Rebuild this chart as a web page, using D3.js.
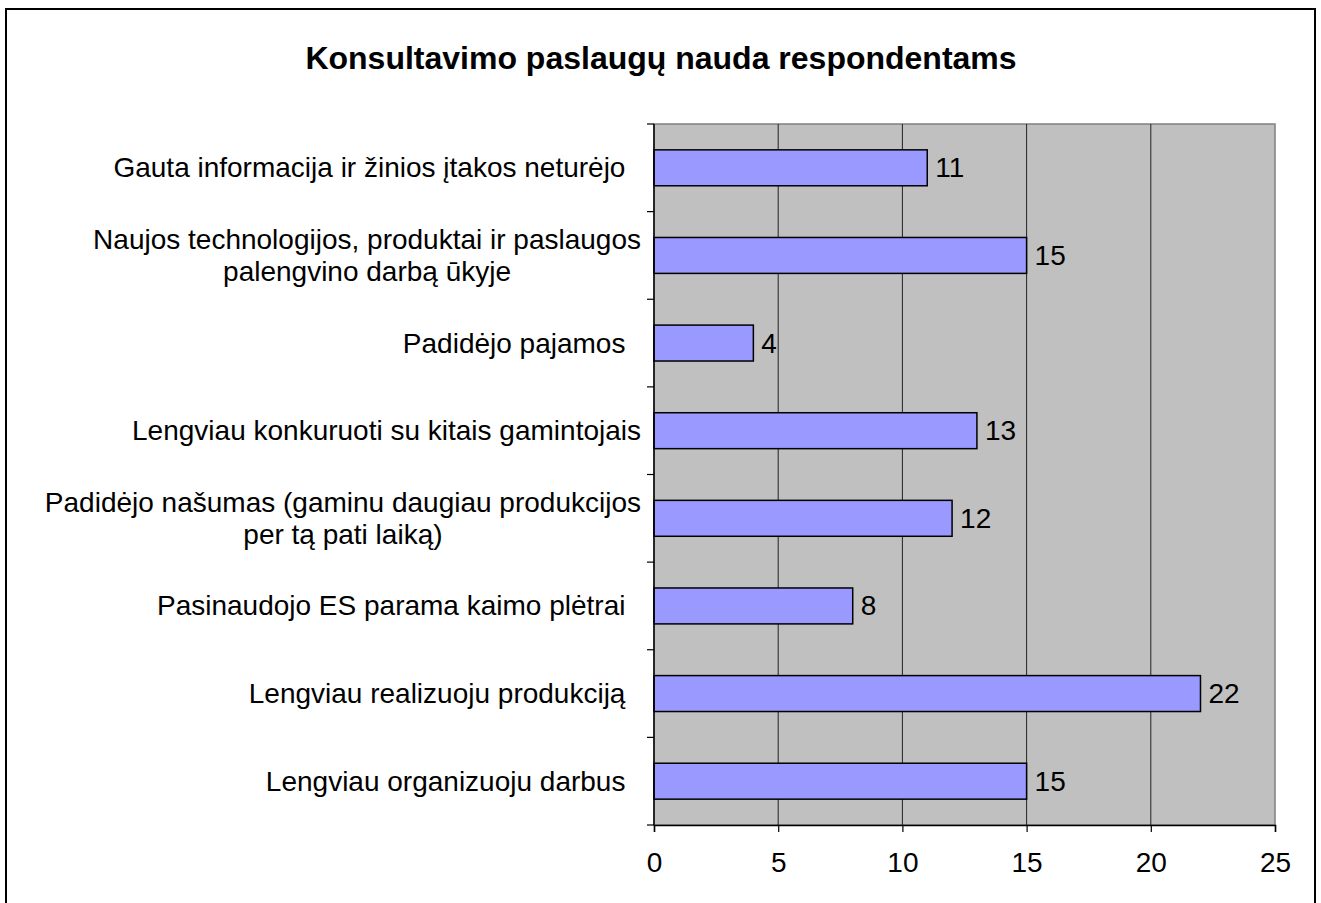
<!DOCTYPE html>
<html><head><meta charset="utf-8">
<script src="https://cdn.jsdelivr.net/npm/d3@7"></script>
<style>
body{margin:0;background:#fff;overflow:hidden}
svg text{font-family:"Liberation Sans",Arial,sans-serif;white-space:pre;fill:#000}
</style>
</head><body>
<svg id="c" width="1321" height="903"></svg>
<script>
const title = "Konsultavimo paslaugų nauda respondentams";
const categories = [
  "Gauta informacija ir žinios įtakos neturėjo  ",
  "Naujos technologijos, produktai ir paslaugos\npalengvino darbą ūkyje",
  "Padidėjo pajamos  ",
  "Lengviau konkuruoti su kitais gamintojais",
  "Padidėjo našumas (gaminu daugiau produkcijos\nper tą pati laiką)",
  "Pasinaudojo ES parama kaimo plėtrai  ",
  "Lengviau realizuoju produkciją  ",
  "Lengviau organizuoju darbus  "
];
const values = [11, 15, 4, 13, 12, 8, 22, 15];
const xTicks = [0, 5, 10, 15, 20, 25];

const svg = d3.select("#c");
const plot = {left: 654, right: 1275, top: 124, bottom: 825};
const fs = 28;

// outer frame
svg.append("rect").attr("x", 6).attr("y", 9).attr("width", 1309).attr("height", 910)
  .attr("fill", "#fff").attr("stroke", "#000").attr("stroke-width", 2);

svg.append("text").attr("x", 661).attr("y", 58)
  .attr("text-anchor", "middle").attr("dominant-baseline", "central")
  .attr("font-size", 32).attr("font-weight", "bold").text(title);

const x = d3.scaleLinear().domain([0, 25]).range([plot.left, plot.right]);
const y = d3.scaleBand().domain(categories).range([plot.top, plot.bottom]).padding(0);

// plot background
svg.append("rect").attr("x", plot.left).attr("y", plot.top)
  .attr("width", plot.right - plot.left).attr("height", plot.bottom - plot.top)
  .attr("fill", "#C0C0C0").attr("stroke", "#808080").attr("stroke-width", 1.5);

// gridlines
svg.append("g").selectAll("line").data(xTicks.filter(t => t > 0 && t < 25)).join("line")
  .attr("x1", d => x(d)).attr("x2", d => x(d))
  .attr("y1", plot.top).attr("y2", plot.bottom)
  .attr("stroke", "#222").attr("stroke-width", 1);

// bars
const barH = y.bandwidth() * 0.41;
svg.append("g").selectAll("rect").data(values).join("rect")
  .attr("x", x(0))
  .attr("y", (d, i) => y(categories[i]) + (y.bandwidth() - barH) / 2)
  .attr("width", d => x(d) - x(0))
  .attr("height", barH)
  .attr("fill", "#9999FF").attr("stroke", "#000").attr("stroke-width", 1.5);

// value labels
svg.append("g").selectAll("text").data(values).join("text")
  .attr("x", d => x(d) + 8)
  .attr("y", (d, i) => y(categories[i]) + y.bandwidth() / 2)
  .attr("dominant-baseline", "central")
  .attr("font-size", fs).text(d => d);

// x axis
const xAxis = d3.axisBottom(x).tickValues(xTicks).tickSize(7).tickPadding(20);
const gx = svg.append("g").attr("transform", `translate(0,${plot.bottom})`).call(xAxis);
gx.select(".domain").attr("stroke", "#000").attr("stroke-width", 1.5);
gx.selectAll(".tick line").attr("stroke", "#000").attr("stroke-width", 1.2);
gx.selectAll(".tick text").attr("font-size", fs).attr("font-family", null);

// y axis line and boundary ticks
svg.append("line").attr("x1", plot.left).attr("x2", plot.left)
  .attr("y1", plot.top).attr("y2", plot.bottom).attr("stroke", "#000").attr("stroke-width", 1.5);
const bounds = categories.map(c => y(c)).concat([plot.bottom]);
svg.append("g").selectAll("line").data(bounds).join("line")
  .attr("x1", plot.left - 7).attr("x2", plot.left)
  .attr("y1", d => d).attr("y2", d => d)
  .attr("stroke", "#000").attr("stroke-width", 1.2);

// category labels (block right-aligned, lines centered)
const labelRight = 641;
const lh = 32;
categories.forEach((c, i) => {
  const lines = c.split("\n");
  const cy = y(c) + y.bandwidth() / 2;
  const g = svg.append("g");
  const texts = lines.map((l, j) => g.append("text")
    .attr("y", cy + (j - (lines.length - 1) / 2) * lh)
    .attr("dominant-baseline", "central")
    .attr("font-size", fs).text(l));
  const widths = texts.map(t => t.node().getComputedTextLength());
  const maxW = d3.max(widths);
  if (lines.length === 1) {
    texts[0].attr("x", labelRight).attr("text-anchor", "end");
  } else {
    texts.forEach(t => t.attr("x", labelRight - maxW / 2).attr("text-anchor", "middle"));
  }
});
</script>
</body></html>
